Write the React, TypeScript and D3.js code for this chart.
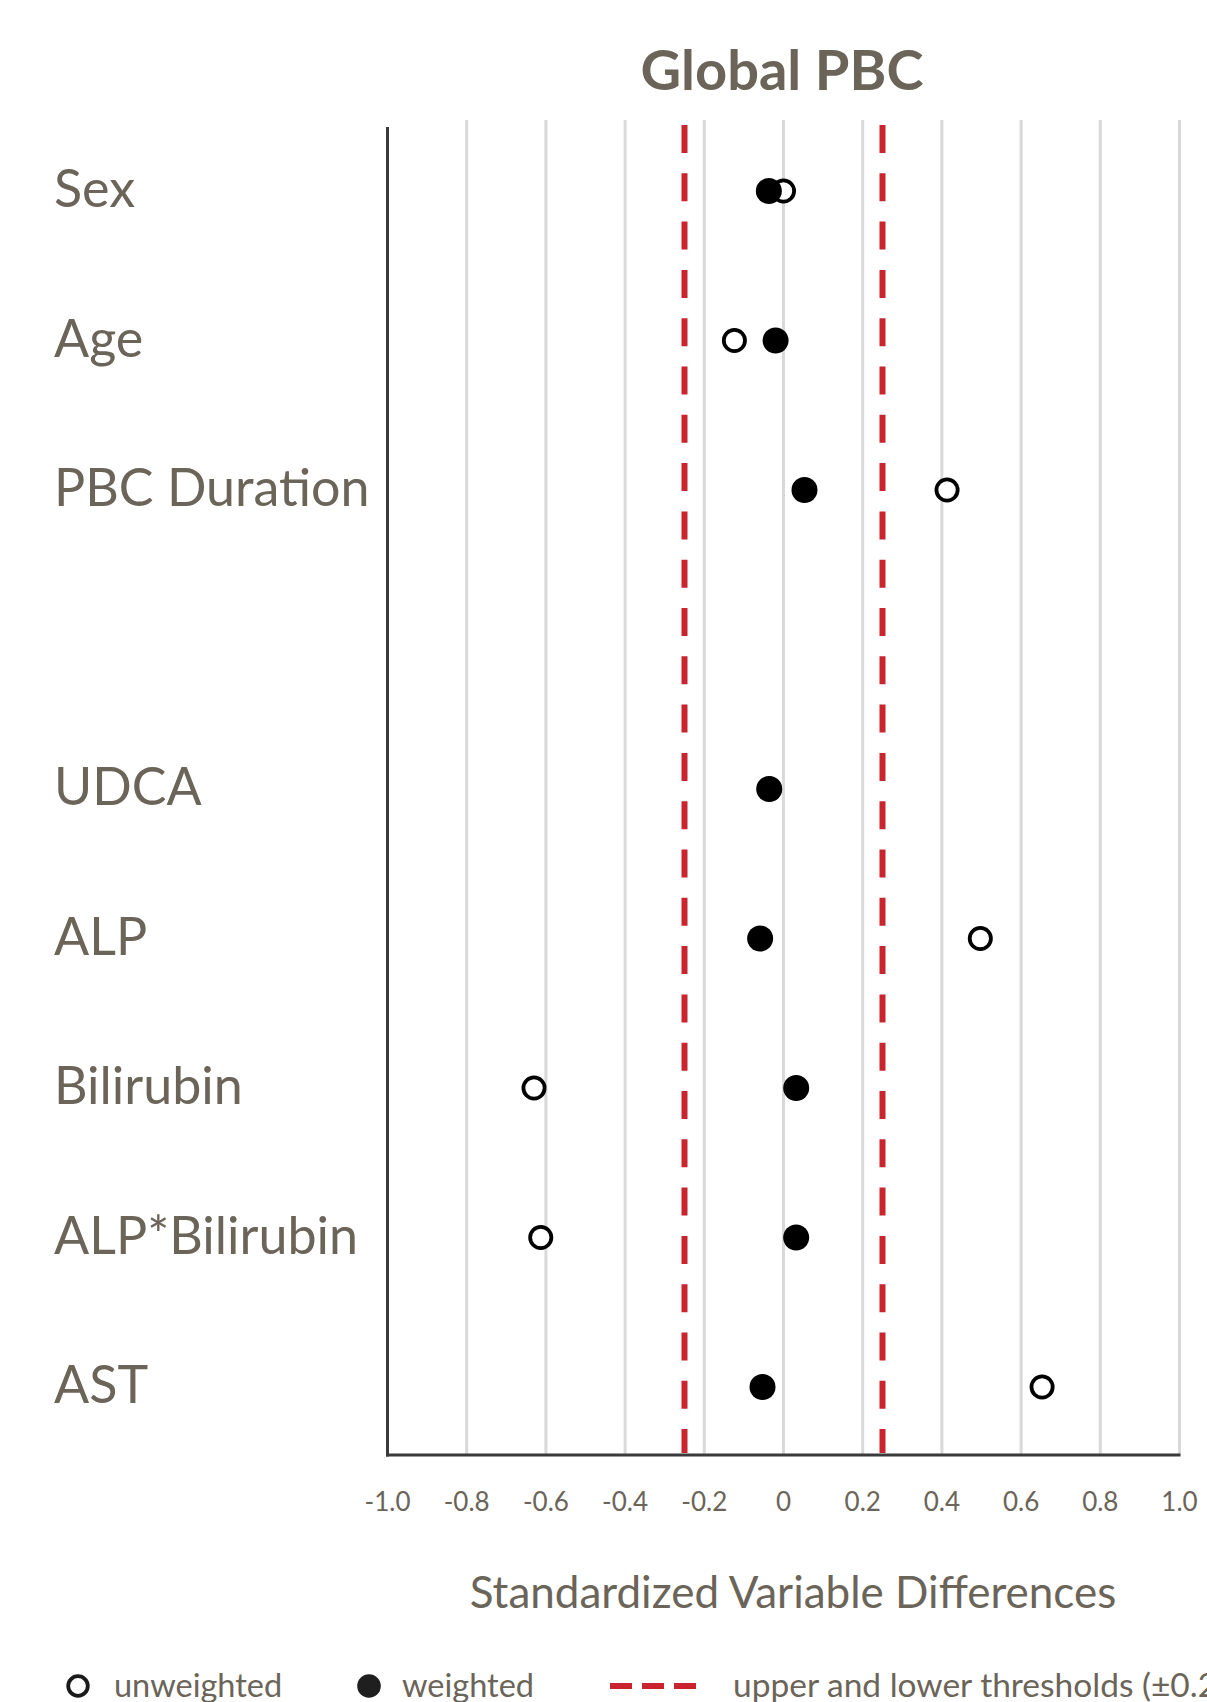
import React, { useEffect } from 'react';
import * as d3 from 'd3';

// ---- data ----
const slots = ['Sex', 'Age', 'PBC Duration', 'gap', 'UDCA', 'ALP', 'Bilirubin', 'ALP*Bilirubin', 'AST'];
const slotLabels = ['Sex', 'Age', 'PBC Duration', '', 'UDCA', 'ALP', 'Bilirubin', 'ALP*Bilirubin', 'AST'];
const unweighted: (number | null)[] = [0.0, -0.124, 0.413, null, -0.036, 0.497, -0.63, -0.613, 0.653];
const weighted: (number | null)[] = [-0.037, -0.02, 0.053, null, -0.036, -0.059, 0.032, 0.032, -0.053];
const tickValues = [-1.0, -0.8, -0.6, -0.4, -0.2, 0, 0.2, 0.4, 0.6, 0.8, 1.0];
const thresholds = [-0.25, 0.25];
const title = 'Global PBC';
const xTitle = 'Standardized Variable Differences';
const legendLabels = ['unweighted', 'weighted', 'upper and lower thresholds (\u00B10.25)'];

const W = 1207;
const H = 1702;
const TEXT = '#6b6459';
const RED = '#c9252f';
const FONT = "Lato, 'Open Sans', sans-serif";

export default function App() {
  useEffect(() => {
    document.body.style.margin = '0';
  }, []);

  const x = d3.scaleLinear().domain([-1, 1]).range([387.5, 1179.5]);
  const y = d3.scalePoint<string>().domain(slots).range([191, 1387]);
  const plotTop = 127;
  const gridTop = 120;
  const plotBottom = 1455;

  const fmt = (v: number) => (Math.abs(v) < 1e-9 ? '0' : v.toFixed(1));

  return (
    <svg width={W} height={H} style={{ display: 'block', background: '#fff' }} fontFamily={FONT}>
      {/* title */}
      <text x={782} y={90} textAnchor="middle" fontSize={56} fontWeight={700} fill={TEXT}>
        {title}
      </text>

      {/* gridlines */}
      {tickValues.filter((t) => t > -1).map((t) => (
        <line key={'g' + t} x1={x(t)} x2={x(t)} y1={gridTop} y2={plotBottom} stroke="#d9d9d9" strokeWidth={3} />
      ))}

      {/* threshold lines */}
      {thresholds.map((t) => (
        <line key={'th' + t} x1={x(t)} x2={x(t)} y1={plotTop - 2} y2={plotBottom - 2} stroke={RED} strokeWidth={6} strokeDasharray="28 20.3" />
      ))}

      {/* axes */}
      <line x1={x(-1)} x2={x(-1)} y1={plotTop} y2={plotBottom + 1.5} stroke="#3a3a3a" strokeWidth={3} />
      <line x1={x(-1) - 1.5} x2={x(1) + 1} y1={plotBottom} y2={plotBottom} stroke="#3a3a3a" strokeWidth={3} />

      {/* tick labels */}
      {tickValues.map((t) => (
        <text key={'t' + t} x={x(t)} y={1511} textAnchor="middle" fontSize={26} fill={TEXT}>
          {fmt(t)}
        </text>
      ))}

      {/* x axis title */}
      <text x={793} y={1608} textAnchor="middle" fontSize={44} fill={TEXT}>
        {xTitle}
      </text>

      {/* category labels */}
      {slots.map((s, i) => (
        <text key={'l' + s} x={54} y={(y(s) as number) + 16} fontSize={52} fill={TEXT}>
          {slotLabels[i]}
        </text>
      ))}

      {/* unweighted points */}
      {slots.map((s, i) =>
        unweighted[i] == null ? null : (
          <circle key={'u' + s} cx={x(unweighted[i] as number)} cy={y(s)} r={10.6} fill="#fff" stroke="#000" strokeWidth={3.8} />
        )
      )}
      {/* weighted points */}
      {slots.map((s, i) =>
        weighted[i] == null ? null : (
          <circle key={'w' + s} cx={x(weighted[i] as number)} cy={y(s)} r={13} fill="#000" />
        )
      )}

      {/* legend */}
      <circle cx={78} cy={1686} r={9.8} fill="#fff" stroke="#1a1a1a" strokeWidth={3.8} />
      <text x={114} y={1697} fontSize={32.5} fill={TEXT}>{legendLabels[0]}</text>
      <circle cx={369} cy={1686} r={11.8} fill="#1f1f1f" />
      <text x={402} y={1697} fontSize={32.5} fill={TEXT}>{legendLabels[1]}</text>
      <line x1={610} x2={696} y1={1686} y2={1686} stroke={RED} strokeWidth={6} strokeDasharray="22 10" />
      <text x={733} y={1697} fontSize={33.5} fill={TEXT}>{legendLabels[2]}</text>
    </svg>
  );
}
